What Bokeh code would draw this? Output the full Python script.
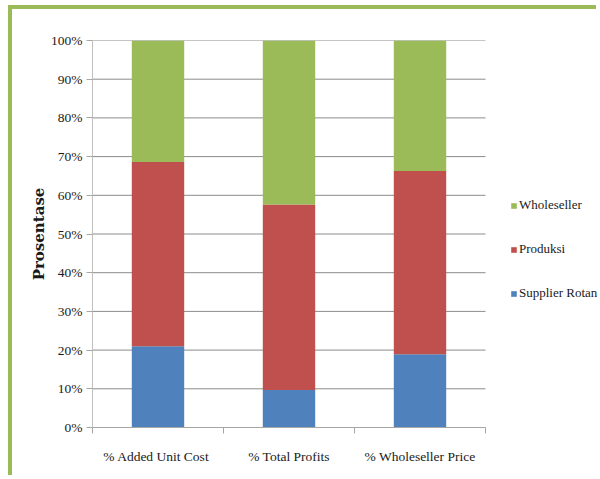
from bokeh.plotting import figure
from bokeh.models import (ColumnDataSource, Range1d, FixedTicker, PrintfTickFormatter,
                          Legend, LegendItem)
from bokeh.embed import file_html
from bokeh.resources import INLINE

categories = ["% Added  Unit Cost", "% Total Profits", "% Wholeseller Price"]
series_names = ["Supplier Rotan", "Produksi", "Wholeseller"]
supplier_rotan = [21.0, 9.7, 18.9]
produksi = [47.6, 47.9, 47.4]
wholeseller = [31.4, 42.4, 33.7]
colors = ["#4F81BD", "#C0504D", "#9BBB59"]
y_ticks = list(range(0, 101, 10))

n = len(categories)
x_pos = [i + 0.5 for i in range(n)]
source = ColumnDataSource(dict(x=x_pos, s0=supplier_rotan, s1=produksi, s2=wholeseller))

FONT = "Liberation Serif"
TXT = "#1a1a1a"

# frame spans to the right edge so the legend is not clipped; categories occupy 393 of 508 px
p = figure(width=588, height=470, output_backend="svg", toolbar_location=None,
           x_range=Range1d(0, n * 508 / 393), y_range=Range1d(0, 100),
           min_border_left=80, min_border_right=0, min_border_top=31, min_border_bottom=52)
p.margin = (5, 0, 0, 8)
p.styles = {"border-left": "4px solid #9BBB59", "border-top": "4px solid #9BBB59"}
p.outline_line_color = None
p.background_fill_color = "white"
p.border_fill_color = "white"

# gridlines limited to the category area
p.segment(x0=[0] * len(y_ticks), x1=[n] * len(y_ticks), y0=y_ticks, y1=y_ticks,
          line_color="#8C8C8C", line_width=1)

rs = p.vbar_stack(["s0", "s1", "s2"], x="x", width=0.4, color=colors, source=source, line_color=None)

# axes
p.xaxis.bounds = (0, n)
p.xaxis.ticker = FixedTicker(ticks=x_pos, minor_ticks=list(range(n + 1)))
p.xaxis.major_label_overrides = {x: c for x, c in zip(x_pos, categories)}
p.xaxis.major_tick_out = 0
p.xaxis.major_tick_in = 0
p.xaxis.minor_tick_out = 6
p.xaxis.minor_tick_in = 0
p.xaxis.minor_tick_line_color = "#A6A6A6"
p.xaxis.axis_line_color = "#A6A6A6"
p.xaxis.major_label_standoff = 15
p.xaxis.major_label_text_font = FONT
p.xaxis.major_label_text_font_size = "13.5px"
p.xaxis.major_label_text_color = TXT

p.yaxis.ticker = FixedTicker(ticks=y_ticks)
p.yaxis.formatter = PrintfTickFormatter(format="%d%%")
p.yaxis.major_tick_out = 6
p.yaxis.major_tick_in = 0
p.yaxis.minor_tick_line_color = None
p.yaxis.major_tick_line_color = "#A6A6A6"
p.yaxis.axis_line_color = "#BFBFBF"
p.yaxis.major_label_standoff = 4
p.yaxis.major_label_text_font = FONT
p.yaxis.major_label_text_font_size = "13.5px"
p.yaxis.major_label_text_color = TXT
p.yaxis.axis_label = "Prosentase"
p.yaxis.axis_label_text_font = "DejaVu Serif"
p.yaxis.axis_label_text_font_style = "bold"
p.yaxis.axis_label_text_font_size = "15px"
p.yaxis.axis_label_text_color = TXT
p.yaxis.axis_label_standoff = 0

p.xgrid.grid_line_color = None
p.ygrid.grid_line_color = None

# legend
items = [LegendItem(label=series_names[i], renderers=[rs[i]]) for i in reversed(range(3))]
legend = Legend(items=items, location=(418, 124), orientation="vertical",
                glyph_width=7, glyph_height=7, label_standoff=2, spacing=24,
                label_height=20, padding=0, margin=0,
                border_line_color=None, background_fill_alpha=0,
                label_text_font=FONT, label_text_font_size="13px", label_text_color=TXT)
p.add_layout(legend)

open("out.html", "w").write(file_html(p, INLINE))
